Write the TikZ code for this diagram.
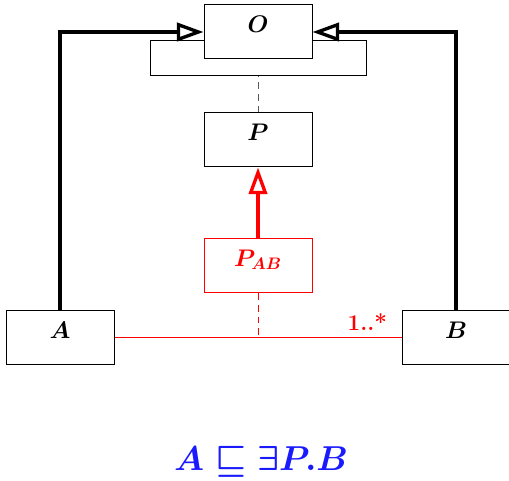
\documentclass[tikz,border=0pt]{standalone}
\usepackage{amsmath,amssymb}
\usetikzlibrary{arrows.meta, positioning}
\definecolor{assocred}{HTML}{FF0000}
\definecolor{axblue}{HTML}{1A1AFF}

\begin{document}
\begin{tikzpicture}[
  x=0.6pt, y=-0.6pt,
  cls/.style={
    draw=#1, line width=0.6pt, fill=white, text=#1,
    minimum width=64.8pt, text height=9.8pt, text depth=9.6pt,
    inner ysep=6.5pt, font=\Large\boldmath
  },
  cls/.default=black,
  inh/.style={-{Triangle[open, length=16pt, width=11pt]},
    line width=2pt, #1},
  inh/.default=black,
  assoc/.style={assocred, line width=0.6pt},
]

\useasboundingbox (0,0) rectangle (509,481);

% Classes
\node[draw, line width=0.6pt, minimum width=129.6pt, minimum height=21pt,
  inner sep=0pt] (Oattr) at (258,58.5) {};
\node[cls] (O) at (258,32) {$O$};
\node[cls] (P) at (258,140) {$P$};
\node[cls=assocred] (PAB) at (258,266) {$P_{AB}$};
\node[cls] (A) at (60,338) {$A$};
\node[cls] (B) at (456,338) {$B$};

% Generalisations
\draw[inh] (A.north) |- (O.west);
\draw[inh] (B.north) |- (O.east);
\draw[inh=assocred] (PAB.north) -- (P.south);
\draw[dashed, line width=0.6pt, gray!70!black, dash pattern=on 4pt off 3pt]
  (P.north) -- (Oattr.south);

% Association with its class
\draw[assoc] (A.east) -- (B.west)
  node[pos=1, anchor=south east, xshift=-5pt, yshift=1pt,
    font=\fontsize{13.5}{16}\selectfont\bfseries, text=assocred] (mult) {1..*};
\coordinate (link) at (PAB.south |- A.east);
\draw[assoc, dashed, dash pattern=on 4pt off 3pt] (PAB.south) -- (link);

% Axiom
\node[font=\fontsize{19.7}{24}\selectfont\boldmath, text=axblue] (axiom) at (261,462)
  {$A \sqsubseteq \exists P.B$};

\end{tikzpicture}
\end{document}
